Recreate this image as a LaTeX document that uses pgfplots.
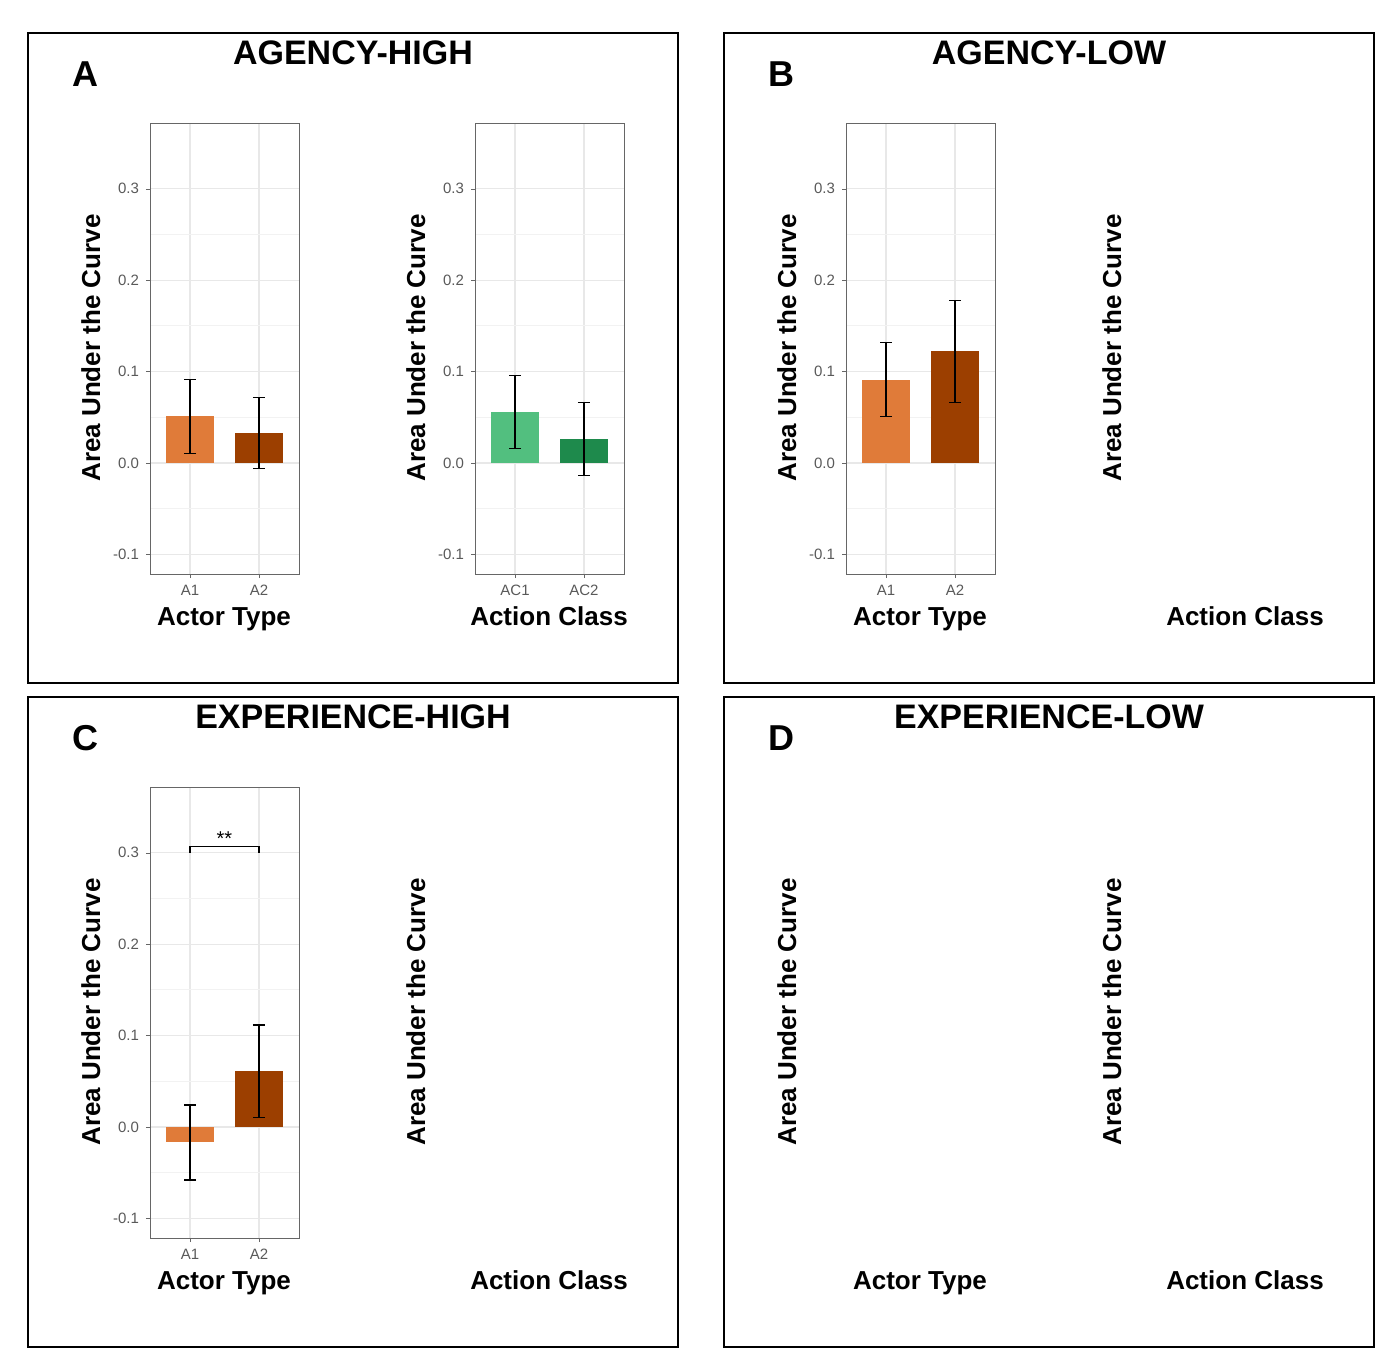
\documentclass[border=0pt]{standalone}
\usepackage{pgfplots}
\pgfplotsset{compat=1.18}
\usepackage{fontspec}
\setmainfont{Liberation Sans}
\definecolor{oL}{HTML}{E07B39}
\definecolor{oD}{HTML}{9C3F00}
\definecolor{gL}{HTML}{52BF7F}
\definecolor{gD}{HTML}{1E8A4C}
\def\extra{}
\newcommand\br[3]{\def\extra{\draw[line width=0.7pt] (axis cs:1,#1-0.007) -- (axis cs:1,#1) -- (axis cs:2,#1) -- (axis cs:2,#1-0.007); \node[above,inner sep=0.5pt,font=\fontsize{10}{10}\selectfont] at (axis cs:1.5,#1) {#2};}}
\newcommand\ax[9]{%
\begin{scope}[x=1pt,y=1pt]
\begin{axis}[at={({0.5*#1pt},{-0.5*#2pt})},anchor=south west,scale only axis,width=74.5pt,height=225.5pt,
 xmin=0.42,xmax=2.58,ymin=-0.1216,ymax=0.372,
 xtick={1,2},xticklabels={#3},ytick={-0.1,0,0.1,0.2,0.3},minor y tick num=1,
 yticklabel style={/pgf/number format/.cd,fixed,fixed zerofill,precision=1,assume math mode=true},
 ticklabel style={font=\fontsize{7.5}{8}\selectfont,text=black!65},
 grid=both,major grid style={black!9,line width=0.6pt},minor grid style={black!5,line width=0.4pt},
 axis line style={black!60,line width=0.4pt},tick style={black!60},tick align=outside,major tick length=2pt,minor tick length=0pt,
 xtick pos=bottom,ytick pos=left,
 ybar,bar width=24pt,bar shift=0pt,
 error bars/error bar style={black,line width=0.6pt},error bars/error mark options={black,rotate=90,mark size=3pt,line width=0.6pt}]
\addplot[draw=none,fill=#4,error bars/.cd,y dir=both,y explicit] coordinates {(1,#6) +- (0,#7)};
\addplot[draw=none,fill=#5,error bars/.cd,y dir=both,y explicit] coordinates {(2,#8) +- (0,#9)};
\extra
\end{axis}
\end{scope}\def\extra{}}
\newcommand\panel[4]{% dx dy letter title
\draw[black,line width=0.6pt] (28+#1,33+#2) rectangle (678+#1,683+#2);
\node[font=\bfseries\fontsize{17}{17}\selectfont] at (353+#1,53+#2) {#4};
\node[font=\bfseries\fontsize{18}{18}\selectfont] at (85+#1,74+#2) {#3};
\node[font=\bfseries\fontsize{13}{13}\selectfont,rotate=90,anchor=base] at (100+#1,348+#2) {Area Under the Curve};
\node[font=\bfseries\fontsize{13}{13}\selectfont,rotate=90,anchor=base] at (425+#1,348+#2) {Area Under the Curve};
\node[font=\bfseries\fontsize{13}{13}\selectfont,anchor=base] at (224+#1,625+#2) {Actor Type};
\node[font=\bfseries\fontsize{13}{13}\selectfont,anchor=base] at (549+#1,625+#2) {Action Class};}
\begin{document}
\begin{tikzpicture}[x=0.5pt,y=-0.5pt]
\path[use as bounding box] (0,0) rectangle (1398,1366);
\panel{0}{0}{A}{AGENCY-HIGH}
\ax{150}{574}{A1,A2}{oL}{oD}{0.051}{0.0405}{0.033}{0.039}
\ax{475}{574}{AC1,AC2}{gL}{gD}{0.056}{0.040}{0.026}{0.040}
\panel{696}{0}{B}{AGENCY-LOW}
\ax{846}{574}{A1,A2}{oL}{oD}{0.091}{0.0405}{0.122}{0.056}
\br{0.307}{**}
\ax{1171}{574}{AC1,AC2}{gL}{gD}{0.186}{0.056}{0.037}{0.041}
\panel{0}{664}{C}{EXPERIENCE-HIGH}
\ax{150}{1238}{A1,A2}{oL}{oD}{-0.017}{0.041}{0.061}{0.0505}
\br{0.349}{**}
\ax{475}{1238}{AC1,AC2}{gL}{gD}{-0.024}{0.0335}{0.124}{0.0755}
\panel{696}{664}{D}{EXPERIENCE-LOW}
\br{0.349}{**}
\ax{846}{1238}{A1,A2}{oL}{oD}{0.001}{0.0345}{0.202}{0.0505}
\br{0.349}{****}
\ax{1171}{1238}{AC1,AC2}{gL}{gD}{0.268}{0.070}{0.045}{0.033}
\end{tikzpicture}
\end{document}
